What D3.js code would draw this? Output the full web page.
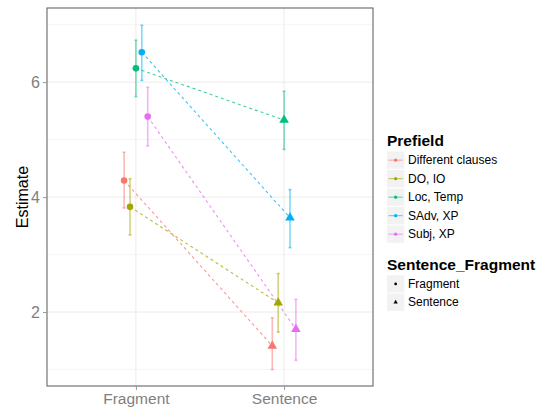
<!DOCTYPE html>
<html>
<head>
<meta charset="utf-8">
<script src="https://cdn.jsdelivr.net/npm/d3@7"></script>
<style>
  body { margin: 0; background: #fff; }
  svg { font-family: "Liberation Sans", Arial, sans-serif; }
</style>
</head>
<body>
<svg id="chart" width="542" height="408"></svg>
<script>
// data
var prefields = ["Different clauses", "DO, IO", "Loc, Temp", "SAdv, XP", "Subj, XP"];
var kinds = ["Fragment", "Sentence"];
var fragEst = [4.29, 3.83, 6.24, 6.52, 5.40];
var fragLo  = [3.81, 3.34, 5.75, 6.03, 4.89];
var fragHi  = [4.78, 4.32, 6.73, 6.99, 5.91];
var sentEst = [1.41, 2.16, 5.34, 3.64, 1.70];
var sentLo  = [1.00, 1.65, 4.83, 3.12, 1.16];
var sentHi  = [1.90, 2.67, 5.84, 4.13, 2.22];
var majorTicks = [2, 4, 6];
var minorTicks = [1, 3, 5, 7];
var colors = ["#F8766D", "#A3A500", "#00BF7D", "#00B0F6", "#E76BF3"];

var svg = d3.select("#chart"),
    margin = {top: 8, right: 169, bottom: 22, left: 47},
    width = +svg.attr("width") - margin.left - margin.right,
    height = +svg.attr("height") - margin.top - margin.bottom,
    g = svg.append("g").attr("transform", "translate(" + margin.left + "," + margin.top + ")");

var rows = [];
prefields.forEach(function(p, i) {
  rows.push({pf: p, kind: "Fragment", est: fragEst[i], lo: fragLo[i], hi: fragHi[i]});
  rows.push({pf: p, kind: "Sentence", est: sentEst[i], lo: sentLo[i], hi: sentHi[i]});
});

var x = d3.scalePoint().domain(kinds).range([0, width]).padding(0.6);
var dodge = d3.scalePoint().domain(prefields).range([-11.8, 11.8]);
var y = d3.scaleLinear().domain([0.713, 7.29]).range([height, 0]);
var color = d3.scaleOrdinal().domain(prefields).range(colors);
function px(d) { return x(d.kind) + dodge(d.pf); }

// grid
g.selectAll(".minor").data(minorTicks).enter().append("line")
    .attr("x1", 0).attr("x2", width)
    .attr("y1", function(d) { return y(d); }).attr("y2", function(d) { return y(d); })
    .attr("stroke", "#f4f4f4").attr("stroke-width", 0.8);
g.selectAll(".major").data(majorTicks).enter().append("line")
    .attr("x1", 0).attr("x2", width)
    .attr("y1", function(d) { return y(d); }).attr("y2", function(d) { return y(d); })
    .attr("stroke", "#ebebeb").attr("stroke-width", 1);
g.selectAll(".vgrid").data(kinds).enter().append("line")
    .attr("x1", function(d) { return x(d); }).attr("x2", function(d) { return x(d); })
    .attr("y1", 0).attr("y2", height)
    .attr("stroke", "#ebebeb").attr("stroke-width", 1);

// connecting lines
prefields.forEach(function(p) {
  var pts = rows.filter(function(r) { return r.pf == p; });
  g.append("path")
      .datum(pts)
      .attr("fill", "none")
      .attr("stroke", color(p))
      .attr("stroke-width", 1.1)
      .attr("stroke-opacity", 0.75)
      .attr("stroke-dasharray", "3,3")
      .attr("d", d3.line().x(px).y(function(d) { return y(d.est); }));
});

// error bars
var eb = g.selectAll(".eb").data(rows).enter().append("g")
    .attr("stroke", function(d) { return color(d.pf); })
    .attr("stroke-opacity", 0.5)
    .attr("stroke-width", 1.6);
eb.append("line")
    .attr("x1", px).attr("x2", px)
    .attr("y1", function(d) { return y(d.lo); }).attr("y2", function(d) { return y(d.hi); });
eb.append("line")
    .attr("x1", function(d) { return px(d) - 1.5; }).attr("x2", function(d) { return px(d) + 1.5; })
    .attr("y1", function(d) { return y(d.lo); }).attr("y2", function(d) { return y(d.lo); });
eb.append("line")
    .attr("x1", function(d) { return px(d) - 1.5; }).attr("x2", function(d) { return px(d) + 1.5; })
    .attr("y1", function(d) { return y(d.hi); }).attr("y2", function(d) { return y(d.hi); });

// points
g.selectAll(".pt").data(rows).enter().append("path")
    .attr("transform", function(d) { return "translate(" + px(d) + "," + y(d.est) + ")"; })
    .attr("fill", function(d) { return color(d.pf); })
    .attr("d", function(d) {
      return d.kind == "Fragment"
        ? d3.symbol().type(d3.symbolCircle).size(34)()
        : d3.symbol().type(d3.symbolTriangle).size(40)();
    });

// panel border
g.append("rect")
    .attr("width", width).attr("height", height)
    .attr("fill", "none").attr("stroke", "#666").attr("stroke-width", 1.1);

// axes
var yAxis = g.append("g")
    .call(d3.axisLeft(y).tickValues(majorTicks).tickSize(4).tickPadding(3).tickFormat(d3.format("d")));
yAxis.select(".domain").remove();
yAxis.selectAll("line").attr("stroke", "#999");
yAxis.selectAll("text").attr("fill", "#7f7f7f").style("font-size", "16px")
    .style("font-family", "Liberation Sans, Arial, sans-serif");

var xAxis = g.append("g")
    .attr("transform", "translate(0," + height + ")")
    .call(d3.axisBottom(x).tickSize(4).tickPadding(3));
xAxis.select(".domain").remove();
xAxis.selectAll("line").attr("stroke", "#999");
xAxis.selectAll("text").attr("fill", "#7f7f7f").style("font-size", "15.5px")
    .style("font-family", "Liberation Sans, Arial, sans-serif");

svg.append("text")
    .attr("transform", "translate(28," + (margin.top + height / 2) + ") rotate(-90)")
    .attr("text-anchor", "middle")
    .style("font-size", "16px")
    .attr("fill", "#000")
    .text("Estimate");

// legend: Prefield
var lg = svg.append("g").attr("transform", "translate(387,0)");
lg.append("text").attr("x", 0).attr("y", 146)
    .style("font-size", "15.5px").style("font-weight", "bold").text("Prefield");
var item = lg.selectAll(".li").data(prefields).enter().append("g")
    .attr("transform", function(d, i) { return "translate(0," + (151.5 + i * 18.5) + ")"; });
item.append("rect").attr("width", 17.3).attr("height", 17.3).attr("fill", "#f2f2f2");
item.append("line").attr("x1", 1.5).attr("x2", 15.8).attr("y1", 8.65).attr("y2", 8.65)
    .attr("stroke", function(d) { return color(d); }).attr("stroke-opacity", 0.6).attr("stroke-width", 1.1);
item.append("circle").attr("cx", 8.65).attr("cy", 8.65).attr("r", 1.6)
    .attr("fill", function(d) { return color(d); });
item.append("text").attr("x", 21).attr("y", 12.8)
    .style("font-size", "12px").text(function(d) { return d; });

// legend: Sentence_Fragment
lg.append("text").attr("x", 0).attr("y", 270)
    .style("font-size", "15.5px").style("font-weight", "bold").text("Sentence_Fragment");
var sitem = lg.selectAll(".si").data(kinds).enter().append("g")
    .attr("transform", function(d, i) { return "translate(0," + (275.3 + i * 18.3) + ")"; });
sitem.append("rect").attr("width", 17.3).attr("height", 17.3).attr("fill", "#f2f2f2");
sitem.append("path")
    .attr("transform", "translate(8.65,8.65)")
    .attr("fill", "#000")
    .attr("d", function(d) {
      return d == "Fragment"
        ? d3.symbol().type(d3.symbolCircle).size(6)()
        : d3.symbol().type(d3.symbolTriangle).size(8)();
    });
sitem.append("text").attr("x", 21).attr("y", 12.8)
    .style("font-size", "12px").text(function(d) { return d; });
</script>
</body>
</html>
